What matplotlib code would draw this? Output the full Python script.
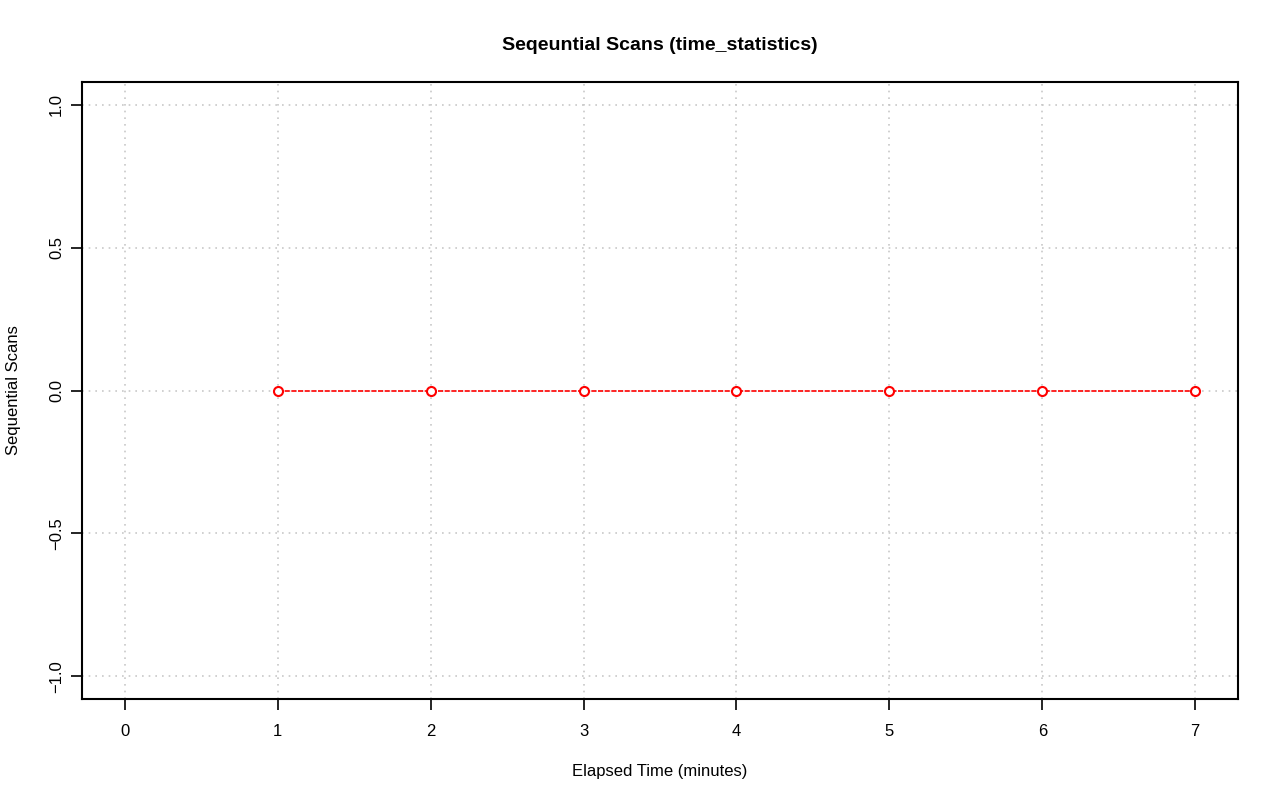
import matplotlib
matplotlib.use("Agg")
import matplotlib.pyplot as plt

plt.rcParams['font.family'] = ['Liberation Sans', 'DejaVu Sans']

minutes = [1, 2, 3, 4, 5, 6, 7]
scans = [0, 0, 0, 0, 0, 0, 0]
xticks = [0, 1, 2, 3, 4, 5, 6, 7]
yticks = [-1.0, -0.5, 0.0, 0.5, 1.0]

fig = plt.figure(figsize=(12.8, 8.01), dpi=100)
ax = fig.add_axes([82/1280, 1 - 699/801, (1238-82)/1280, (699-82)/801])

ax.plot(minutes, scans, color='red', linestyle=(0, (3, 1)), linewidth=1.2, zorder=3)
ax.plot(minutes, scans, linestyle='none', marker='o', markersize=6.5,
        markerfacecolor='white', markeredgecolor='red', markeredgewidth=1.5, zorder=4)

ax.set_xlim(-0.28, 7.28)
ax.set_ylim(-1.08, 1.08)
ax.set_xticks(xticks)
ax.set_xticklabels([str(t) for t in xticks])
ax.set_yticks(yticks)
ax.set_yticklabels([('%.1f' % t).replace('-', '\u2212') for t in yticks],
                   rotation=90, va='center')
ax.grid(True, color='#c8c8c8', linestyle=(0, (1, 3)), linewidth=1.2)
ax.set_axisbelow(True)

for s in ax.spines.values():
    s.set_linewidth(1.5)
ax.tick_params(direction='out', length=8, width=1.2, labelsize=12)
ax.tick_params(axis='x', pad=10)
ax.tick_params(axis='y', pad=5)

ax.set_xlabel('Elapsed Time (minutes)', fontsize=12, labelpad=18)
ax.set_ylabel('Sequential Scans', fontsize=12, labelpad=20)
ax.set_title('Seqeuntial Scans (time_statistics)', fontsize=14, fontweight='bold', pad=23)

fig.savefig('out.png', dpi=100)
